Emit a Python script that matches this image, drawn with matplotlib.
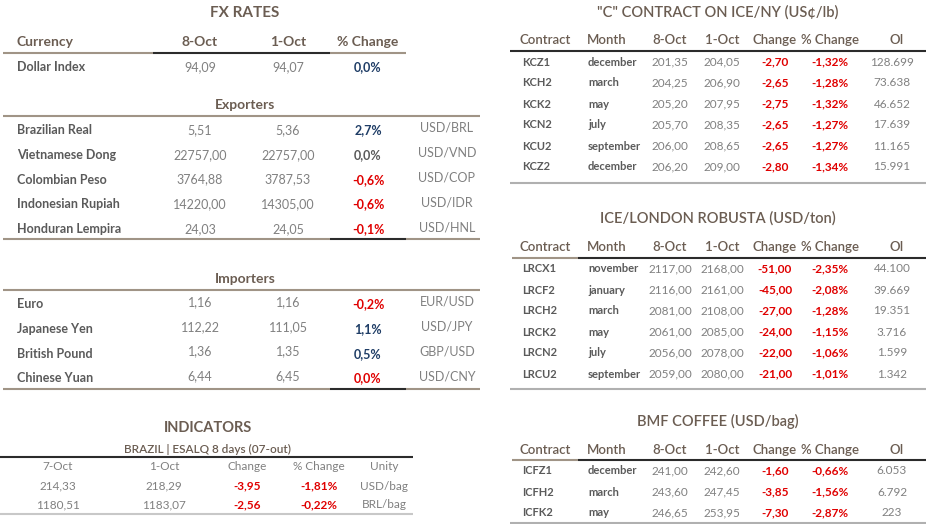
import matplotlib
matplotlib.use("Agg")
import matplotlib.pyplot as plt

plt.rcParams["font.family"] = ["Lato", "DejaVu Sans"]

HEAD = "#6b5d52"
GRAY = "#808080"
DARK = "#5a5a5a"
RED = "#e00000"
BLUE = "#1f3d66"
LINE = "#a09486"
BLACK = "#2b2b2b"

# ---- FX rates ----
fx_dates = ["8-Oct", "1-Oct"]
dollar_index = ["94,09", "94,07", "0,0%"]

exp_names = ["Brazilian Real", "Vietnamese Dong", "Colombian Peso", "Indonesian Rupiah", "Honduran Lempira"]
exp_new = ["5,51", "22757,00", "3764,88", "14220,00", "24,03"]
exp_old = ["5,36", "22757,00", "3787,53", "14305,00", "24,05"]
exp_pct = ["2,7%", "0,0%", "-0,6%", "-0,6%", "-0,1%"]
exp_pct_col = [BLUE, DARK, RED, RED, RED]
exp_pair = ["USD/BRL", "USD/VND", "USD/COP", "USD/IDR", "USD/HNL"]

imp_names = ["Euro", "Japanese Yen", "British Pound", "Chinese Yuan"]
imp_new = ["1,16", "112,22", "1,36", "6,44"]
imp_old = ["1,16", "111,05", "1,35", "6,45"]
imp_pct = ["-0,2%", "1,1%", "0,5%", "0,0%"]
imp_pct_col = [RED, BLUE, BLUE, RED]
imp_pair = ["EUR/USD", "USD/JPY", "GBP/USD", "USD/CNY"]

# ---- Indicators ----
ind_cols = ["7-Oct", "1-Oct", "Change", "% Change", "Unity"]
ind_rows = [["214,33", "218,29", "-3,95", "-1,81%", "USD/bag"],
            ["1180,51", "1183,07", "-2,56", "-0,22%", "BRL/bag"]]

# ---- futures ----
fut_cols = ["Contract", "Month", "8-Oct", "1-Oct", "Change", "% Change", "OI"]
kc_code = ["KCZ1", "KCH2", "KCK2", "KCN2", "KCU2", "KCZ2"]
kc_month = ["december", "march", "may", "july", "september", "december"]
kc_new = ["201,35", "204,25", "205,20", "205,70", "206,00", "206,20"]
kc_old = ["204,05", "206,90", "207,95", "208,35", "208,65", "209,00"]
kc_chg = ["-2,70", "-2,65", "-2,75", "-2,65", "-2,65", "-2,80"]
kc_pct = ["-1,32%", "-1,28%", "-1,32%", "-1,27%", "-1,27%", "-1,34%"]
kc_oi = ["128.699", "73.638", "46.652", "17.639", "11.165", "15.991"]

lrc_code = ["LRCX1", "LRCF2", "LRCH2", "LRCK2", "LRCN2", "LRCU2"]
lrc_month = ["november", "january", "march", "may", "july", "september"]
lrc_new = ["2117,00", "2116,00", "2081,00", "2061,00", "2056,00", "2059,00"]
lrc_old = ["2168,00", "2161,00", "2108,00", "2085,00", "2078,00", "2080,00"]
lrc_chg = ["-51,00", "-45,00", "-27,00", "-24,00", "-22,00", "-21,00"]
lrc_pct = ["-2,35%", "-2,08%", "-1,28%", "-1,15%", "-1,06%", "-1,01%"]
lrc_oi = ["44.100", "39.669", "19.351", "3.716", "1.599", "1.342"]

icf_code = ["ICFZ1", "ICFH2", "ICFK2"]
icf_month = ["december", "march", "may"]
icf_new = ["241,00", "243,60", "246,65"]
icf_old = ["242,60", "247,45", "253,95"]
icf_chg = ["-1,60", "-3,85", "-7,30"]
icf_pct = ["-0,66%", "-1,56%", "-2,87%"]
icf_oi = ["6.053", "6.792", "223"]

W, H = 927, 524
fig = plt.figure(figsize=(W / 100, H / 100), dpi=100)
ax = fig.add_axes([0, 0, 1, 1])
ax.set_xlim(0, W)
ax.set_ylim(H, 0)
ax.axis("off")


def txt(x, y, s, size=9, color=GRAY, weight="normal", ha="center"):
    ax.text(x, y, s, fontsize=size, color=color, ha=ha, va="center",
            fontweight=weight)


def hline(y, x0, x1, color=LINE, lw=1.5):
    ax.plot([x0, x1], [y, y], color=color, lw=lw, solid_capstyle="butt")


# ===== FX RATES =====
txt(245, 13, "FX RATES", 11, HEAD, "bold")
txt(17, 42, "Currency", 10, HEAD, "bold", "left")
txt(200, 42, fx_dates[0], 10, HEAD, "bold")
txt(288, 42, fx_dates[1], 10, HEAD, "bold")
txt(368, 42, "% Change", 10, HEAD, "bold")
hline(53, 3, 153)
hline(53, 153, 330, BLACK)
hline(53, 330, 406)

txt(17, 67, "Dollar Index", 9, DARK, "bold", "left")
txt(200, 67, dollar_index[0], 9)
txt(288, 67, dollar_index[1], 9)
txt(368, 67, dollar_index[2], 9, BLUE, "bold")

txt(245, 105, "Exporters", 10, HEAD, "bold")
hline(116, 3, 480)
for i, name in enumerate(exp_names):
    y = 130 + i * 24.8
    txt(17, y, name, 9, DARK, "bold", "left")
    txt(200, y, exp_new[i], 9)
    txt(288, y, exp_old[i], 9)
    txt(368, y, exp_pct[i], 9, exp_pct_col[i], "bold")
    txt(447, y - 2, exp_pair[i], 9)
hline(239, 3, 330)
hline(239, 330, 406, BLACK)
hline(239, 406, 480)

txt(245, 279, "Importers", 10, HEAD, "bold")
hline(290, 3, 480)
for i, name in enumerate(imp_names):
    y = 304 + i * 24.8
    txt(17, y, name, 9, DARK, "bold", "left")
    txt(200, y - 2, imp_new[i], 9)
    txt(288, y - 2, imp_old[i], 9)
    txt(368, y, imp_pct[i], 9, imp_pct_col[i], "bold")
    txt(447, y - 2, imp_pair[i], 9)
hline(389, 3, 330)
hline(389, 330, 406, BLACK)
hline(389, 406, 480)

# ===== INDICATORS =====
txt(208, 428, "INDICATORS", 10.5, HEAD, "bold")
txt(208, 449, "BRAZIL | ESALQ 8 days (07-out)", 8.5, HEAD, "semibold")
hline(457, 0, 413, BLACK)
ind_x = [58, 164, 247, 319, 384]
for j, c in enumerate(ind_cols):
    txt(ind_x[j], 467, c, 8.5)
for i, row in enumerate(ind_rows):
    y = 486 + i * 19
    for j, v in enumerate(row):
        if j in (2, 3):
            txt(ind_x[j], y, v, 8.5, RED, "bold")
        else:
            txt(ind_x[j], y, v, 8.5)
hline(514, 0, 413, "#c8c8c8")

# ===== futures tables =====
col_x = [522, 588, 670, 722, 775, 830, 892]


def futures(title, ty, hy, ly, ry, codes, months, new, old, chg, pct, oi,
            bottom, split=True):
    txt(718, ty, title, 10.5, HEAD, "semibold")
    txt(col_x[0] - 2, hy, fut_cols[0], 9.5, HEAD, "semibold", "left")
    txt(col_x[1] - 1, hy, fut_cols[1], 9.5, HEAD, "semibold", "left")
    for j in range(2, 7):
        txt(col_x[j] + (5 if j == 6 else 0), hy, fut_cols[j], 9.5, HEAD, "semibold")
    if split:
        hline(ly, 512, 578, LINE)
        hline(ly, 578, 926, BLACK)
    else:
        hline(ly, 510, 926, BLACK)
    for i in range(len(codes)):
        y = ry + i * 21
        txt(col_x[0], y, codes[i], 8, DARK, "bold", "left")
        txt(col_x[1], y, months[i], 8, DARK, "bold", "left")
        txt(col_x[2], y, new[i], 8.5)
        txt(col_x[3], y, old[i], 8.5)
        txt(col_x[4], y, chg[i], 8.5, RED, "bold")
        txt(col_x[5], y, pct[i], 8.5, RED, "bold")
        txt(col_x[6], y, oi[i], 8.5)
    hline(bottom, 510, 926, "#b0b0b0")


futures('"C" CONTRACT ON ICE/NY (US¢/lb)', 12, 40, 51, 62,
        kc_code, kc_month, kc_new, kc_old, kc_chg, kc_pct, kc_oi, 183, split=False)
futures("ICE/LONDON ROBUSTA (USD/ton)", 218, 247, 258, 269,
        lrc_code, lrc_month, lrc_new, lrc_old, lrc_chg, lrc_pct, lrc_oi, 389)
futures("BMF COFFEE (USD/bag)", 421, 450, 460, 471,
        icf_code, icf_month, icf_new, icf_old, icf_chg, icf_pct, icf_oi, 523)

fig.savefig("out.png", dpi=100, facecolor="white")
